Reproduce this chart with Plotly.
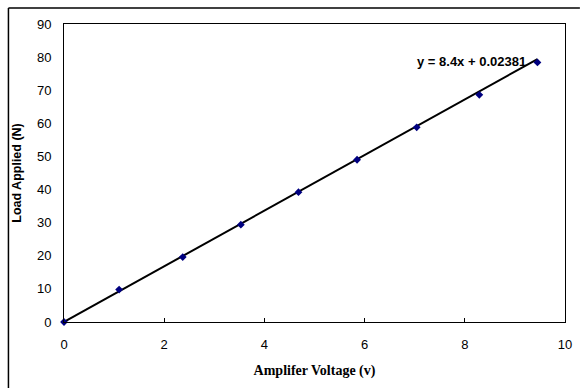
import plotly.graph_objects as go

voltage = [0, 1.1, 2.37, 3.53, 4.68, 5.85, 7.04, 8.29, 9.45]
load = [0, 9.8, 19.6, 29.4, 39.2, 49.0, 58.8, 68.6, 78.4]
slope = 8.4
intercept = 0.02381
equation = "y = 8.4x + 0.02381"

W, H = 584, 388
L, R, T, B = 64, 15, 24, 66
pw, ph = W - L - R, H - T - B

trend_x = [voltage[0], voltage[-1]]
trend_y = [slope * v + intercept for v in trend_x]

fig = go.Figure()
fig.add_trace(go.Scatter(x=trend_x, y=trend_y, mode="lines",
                         line=dict(color="black", width=2), hoverinfo="skip"))
fig.add_trace(go.Scatter(x=voltage, y=load, mode="markers",
                         marker=dict(symbol="diamond", size=6, color="#000080",
                                     line=dict(width=0)), cliponaxis=False))

fig.add_annotation(x=9.27, y=78.6, xref="x", yref="y", xanchor="right",
                   text="<b>" + equation + "</b>",
                   showarrow=False, font=dict(family="Liberation Sans, Arial", size=13, color="black"))

# outer chart border (top and left visible)
bx = (8 - L) / pw
by = 1 + (T - 8) / ph
fig.add_shape(type="line", xref="paper", yref="paper", x0=bx, x1=1 + R / pw, y0=by, y1=by,
              line=dict(color="black", width=1.5), layer="above")
fig.add_shape(type="line", xref="paper", yref="paper", x0=bx, x1=bx, y0=by, y1=-B / ph,
              line=dict(color="black", width=1.5), layer="above")

fig.update_layout(
    width=W, height=H, margin=dict(l=L, r=R, t=T, b=B),
    paper_bgcolor="white", plot_bgcolor="white", showlegend=False,
    font=dict(family="Liberation Sans, Arial", size=13, color="black"),
    xaxis=dict(range=[0, 10], dtick=2, showgrid=False, zeroline=False,
               showline=True, linecolor="black", linewidth=1, mirror=True,
               ticks="inside", ticklen=4, tickcolor="black",
               ticklabelstandoff=10,
               title=dict(text="<b>Amplifer Voltage (v)</b>",
                          font=dict(family="Liberation Serif, Times New Roman", size=14), standoff=14)),
    yaxis=dict(range=[0, 90], dtick=10, showgrid=False, zeroline=False,
               showline=True, linecolor="black", linewidth=1, mirror=True,
               ticks="outside", ticklen=0, tickcolor="white",
               ticklabelstandoff=9,
               title=dict(text="<b>Load Applied (N)</b>",
                          font=dict(family="Liberation Sans, Arial", size=12.5), standoff=12)),
)

fig.write_html("out.html")
